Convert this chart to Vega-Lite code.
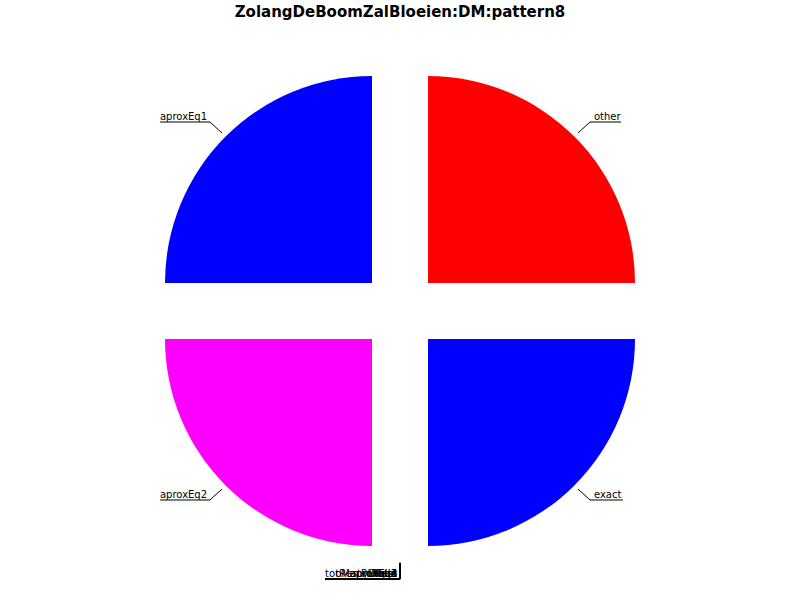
{
  "$schema": "https://vega.github.io/schema/vega-lite/v6.json",
  "width": 800,
  "height": 570,
  "autosize": "none",
  "padding": {"top": 30, "left": 0, "right": 0, "bottom": 0},
  "background": "white",
  "title": {"text": "ZolangDeBoomZalBloeien:DM:pattern8", "font": "DejaVu Sans", "fontSize": 15, "fontWeight": "bold", "color": "black", "anchor": "middle", "offset": 10},
  "config": {"view": {"stroke": null}},
  "datasets": {
    "slices": [
      {"name": "other", "value": 1, "order": 1, "dx": 0.1353, "dy": 0.1353},
      {"name": "exact", "value": 1, "order": 2, "dx": 0.1353, "dy": -0.1353},
      {"name": "total", "value": 0, "order": 3, "dx": 0, "dy": -0.1913},
      {"name": "tRatio", "value": 0, "order": 3, "dx": 0, "dy": -0.1913},
      {"name": "aproxEq3", "value": 0, "order": 3, "dx": 0, "dy": -0.1913},
      {"name": "aproxEq4", "value": 0, "order": 3, "dx": 0, "dy": -0.1913},
      {"name": "tooManyDigits", "value": 0, "order": 3, "dx": 0, "dy": -0.1913},
      {"name": "tRestPattern", "value": 0, "order": 3, "dx": 0, "dy": -0.1913},
      {"name": "Rest", "value": 0, "order": 3, "dx": 0, "dy": -0.1913},
      {"name": "aproxEq2", "value": 1, "order": 4, "dx": -0.1353, "dy": -0.1353},
      {"name": "aproxEq1", "value": 1, "order": 5, "dx": -0.1353, "dy": 0.1353}
    ],
    "labels": [
      {"name": "other", "x1": 0.86, "y1": 0.86, "x2": 0.918, "y2": 0.913, "x3": 1.068, "tx": 0.937, "side": "R"},
      {"name": "exact", "x1": 0.86, "y1": -0.86, "x2": 0.918, "y2": -0.913, "x3": 1.077, "tx": 0.937, "side": "R"},
      {"name": "aproxEq2", "x1": -0.86, "y1": -0.86, "x2": -0.918, "y2": -0.913, "x3": -1.159, "tx": -0.932, "side": "L"},
      {"name": "aproxEq1", "x1": -0.86, "y1": 0.86, "x2": -0.918, "y2": 0.913, "x3": -1.159, "tx": -0.932, "side": "L"},
      {"name": "total", "x1": 0, "y1": -1.217, "x2": 0, "y2": -1.295, "x3": -0.362, "tx": -0.0145, "side": "L"},
      {"name": "tRatio", "x1": 0, "y1": -1.217, "x2": 0, "y2": -1.295, "x3": -0.362, "tx": -0.0145, "side": "L"},
      {"name": "aproxEq3", "x1": 0, "y1": -1.217, "x2": 0, "y2": -1.295, "x3": -0.362, "tx": -0.0145, "side": "L"},
      {"name": "aproxEq4", "x1": 0, "y1": -1.217, "x2": 0, "y2": -1.295, "x3": -0.362, "tx": -0.0145, "side": "L"},
      {"name": "tooManyDigits", "x1": 0, "y1": -1.217, "x2": 0, "y2": -1.295, "x3": -0.362, "tx": -0.0145, "side": "L"},
      {"name": "tRestPattern", "x1": 0, "y1": -1.217, "x2": 0, "y2": -1.295, "x3": -0.362, "tx": -0.0145, "side": "L"},
      {"name": "Rest", "x1": 0, "y1": -1.217, "x2": 0, "y2": -1.295, "x3": -0.362, "tx": -0.0145, "side": "L"}
    ]
  },
  "layer": [
    {
      "data": {"name": "slices"},
      "mark": {"type": "arc", "radius": 207},
      "encoding": {
        "theta": {"field": "value", "type": "quantitative", "stack": true},
        "order": {"field": "order", "type": "quantitative"},
        "x": {"field": "dx", "type": "quantitative", "scale": {"domain": [-1, 1], "range": [193, 607], "nice": false, "zero": false}, "axis": null},
        "y": {"field": "dy", "type": "quantitative", "scale": {"domain": [-1, 1], "range": [488, 74], "nice": false, "zero": false}, "axis": null},
        "color": {"field": "name", "type": "nominal", "legend": null,
          "scale": {"domain": ["other", "exact", "aproxEq2", "aproxEq1", "total", "tRatio", "aproxEq3", "aproxEq4", "tooManyDigits", "tRestPattern", "Rest"],
                    "range": ["#ff0000", "#0000ff", "#ff00ff", "#0000ff", "#888888", "#888888", "#888888", "#888888", "#888888", "#888888", "#888888"]}}
      }
    },
    {
      "data": {"name": "labels"},
      "mark": {"type": "rule", "color": "black", "strokeWidth": 1},
      "encoding": {
        "x": {"field": "x1", "type": "quantitative"},
        "y": {"field": "y1", "type": "quantitative"},
        "x2": {"field": "x2"},
        "y2": {"field": "y2"}
      }
    },
    {
      "data": {"name": "labels"},
      "mark": {"type": "rule", "color": "black", "strokeWidth": 1},
      "encoding": {
        "x": {"field": "x2", "type": "quantitative"},
        "y": {"field": "y2", "type": "quantitative"},
        "x2": {"field": "x3"}
      }
    },
    {
      "data": {"name": "labels"},
      "transform": [{"filter": "datum.side === 'R'"}],
      "mark": {"type": "text", "align": "left", "baseline": "alphabetic", "dy": -2, "font": "DejaVu Sans", "fontSize": 10, "color": "black"},
      "encoding": {
        "x": {"field": "tx", "type": "quantitative"},
        "y": {"field": "y2", "type": "quantitative"},
        "text": {"field": "name"}
      }
    },
    {
      "data": {"name": "labels"},
      "transform": [{"filter": "datum.side === 'L'"}],
      "mark": {"type": "text", "align": "right", "baseline": "alphabetic", "dy": -2, "font": "DejaVu Sans", "fontSize": 10, "color": "black"},
      "encoding": {
        "x": {"field": "tx", "type": "quantitative"},
        "y": {"field": "y2", "type": "quantitative"},
        "text": {"field": "name"}
      }
    }
  ]
}
